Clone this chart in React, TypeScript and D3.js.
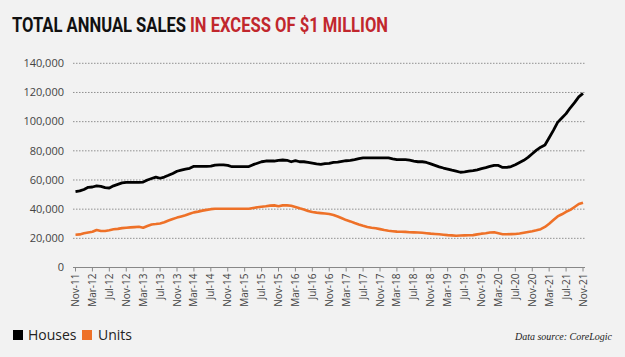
import React, { useLayoutEffect, useRef } from "react";
import * as d3 from "d3";

const W = 625;
const H = 357;

const startMonth = new Date(2011, 10, 1); // Nov-11

const houses: number[] = [
  52.0, 52.5, 53.5, 55.0, 55.2, 55.9, 55.6, 54.8, 54.5, 56.0,
  57.0, 58.0, 58.4, 58.4, 58.4, 58.4, 58.6, 60.0, 61.0, 62.0,
  61.2, 62.0, 63.2, 64.5, 66.0, 66.8, 67.5, 68.0, 69.4, 69.4,
  69.4, 69.4, 69.5, 70.2, 70.3, 70.3, 70.0, 69.1, 69.1, 69.1,
  69.1, 69.2, 70.5, 71.5, 72.5, 73.0, 73.0, 73.0, 73.5, 73.7,
  73.5, 72.5, 73.3, 72.5, 72.5, 72.0, 71.5, 71.0, 70.7, 71.2,
  71.4, 72.1, 72.3, 72.8, 73.2, 73.5, 74.0, 74.6, 75.1, 75.1,
  75.1, 75.1, 75.1, 75.1, 75.1, 74.5, 74.0, 74.0, 73.9, 73.6,
  73.0, 72.5, 72.5, 72.0, 71.0, 70.0, 69.0, 68.2, 67.5, 66.7,
  66.0, 65.3, 65.5, 66.0, 66.4, 67.0, 67.8, 68.5, 69.3, 70.0,
  70.0, 68.6, 68.6, 69.2, 70.5, 72.0, 73.5, 75.5, 78.0, 80.5,
  82.5, 84.0, 89.0, 94.0, 99.5, 102.5, 105.5, 109.5, 113.0, 117.0,
  119.4,
].map((v) => v * 1000);

const units: number[] = [
  22.5, 22.7, 23.5, 24.0, 24.5, 25.7, 25.0, 25.0, 25.5, 26.2,
  26.5, 27.0, 27.3, 27.5, 27.7, 27.9, 27.3, 28.5, 29.5, 29.8,
  30.2, 31.0, 32.2, 33.3, 34.2, 35.0, 35.8, 36.8, 37.8, 38.3,
  39.0, 39.5, 40.0, 40.3, 40.3, 40.3, 40.3, 40.3, 40.3, 40.3,
  40.3, 40.3, 40.8, 41.3, 41.7, 42.0, 42.4, 42.6, 42.0, 42.6,
  42.6, 42.3, 41.5, 40.6, 39.8, 38.8, 38.0, 37.6, 37.3, 37.0,
  36.7, 36.0, 35.0, 33.8, 32.5, 31.6, 30.5, 29.5, 28.6, 27.8,
  27.2, 26.9, 26.3, 25.7, 25.2, 24.9, 24.6, 24.5, 24.4, 24.2,
  24.1, 24.0, 23.8, 23.5, 23.2, 23.0, 22.8, 22.5, 22.2, 22.0,
  21.8, 21.9, 22.0, 22.1, 22.2, 22.7, 23.2, 23.5, 24.0, 24.1,
  23.5, 22.8, 22.8, 22.9, 23.0, 23.3, 23.8, 24.3, 24.8, 25.5,
  26.3, 27.8, 30.0, 32.5, 35.0, 36.5, 38.2, 39.5, 41.5, 43.5,
  44.4,
].map((v) => v * 1000);

const yTicks: number[] = [0, 20000, 40000, 60000, 80000, 100000, 120000, 140000];

const monthNames = ["Jan", "Feb", "Mar", "Apr", "May", "Jun", "Jul", "Aug", "Sep", "Oct", "Nov", "Dec"];

const seriesNames = ["Houses", "Units"];
const seriesColors = ["#000000", "#ee7128"];

const titleParts = ["TOTAL ANNUAL SALES", "IN EXCESS OF $1 MILLION"];

function monthDate(i: number) {
  return new Date(startMonth.getFullYear(), startMonth.getMonth() + i, 1);
}
function fmtMonth(d: Date) {
  return `${monthNames[d.getMonth()]}-${String(d.getFullYear() % 100).padStart(2, "0")}`;
}

export default function App() {
  const t1 = useRef<SVGTextElement>(null);
  const t2 = useRef<SVGTextElement>(null);

  useLayoutEffect(() => {
    const fit = (el: SVGTextElement | null, x0: number, target: number) => {
      if (!el) return;
      const w = el.getComputedTextLength();
      const s = w > 0 ? target / w : 1;
      el.setAttribute("transform", `translate(${x0},32) scale(${s},1)`);
    };
    fit(t1.current, 12, 174);
    fit(t2.current, 190, 198);
  }, []);

  const x = d3.scaleLinear().domain([0, houses.length - 1]).range([75.5, 583]);
  const y = d3.scaleLinear().domain([0, 140000]).range([267.5, 63.3]);
  const line = d3
    .line<number>()
    .x((_, i) => x(i))
    .y((d) => y(d))
    .curve(d3.curveLinear);

  const tickIdx = d3.range(0, houses.length, 4);
  const fmt = d3.format(",");
  const axisFont = "'Open Sans', 'DejaVu Sans', sans-serif";
  const titleFont = "Roboto, 'Liberation Sans Narrow', sans-serif";

  return (
    <svg
      width={W}
      height={H}
      style={{ position: "fixed", left: 0, top: 0, background: "#f2f2f2" }}
    >
      <rect x={0} y={0} width={W} height={H} fill="#f2f2f2" />
      {/* Title */}
      <text
        ref={t1}
        transform="translate(12,32) scale(0.84,1)"
        fontFamily={titleFont}
        fontWeight={700}
        fontSize={20}
        fill="#111"
      >
        {titleParts[0]}
      </text>
      <text
        ref={t2}
        transform="translate(190,32) scale(0.84,1)"
        fontFamily={titleFont}
        fontWeight={700}
        fontSize={20}
        fill="#c1272d"
      >
        {titleParts[1]}
      </text>

      {/* gridlines */}
      {yTicks.map((t) =>
        t === 0 ? null : (
          <line
            key={t}
            x1={73}
            x2={585}
            y1={y(t)}
            y2={y(t)}
            stroke="#777"
            strokeWidth={0.8}
            strokeDasharray="1.5,1.5"
          />
        )
      )}
      {/* y labels */}
      {yTicks.map((t) => (
        <text
          key={"yl" + t}
          x={64}
          y={y(t)}
          dy="0.35em"
          textAnchor="end"
          fontFamily={axisFont}
          fontSize={11}
          fill="#444"
        >
          {fmt(t)}
        </text>
      ))}
      {/* x axis */}
      <line x1={73} x2={585} y1={y(0)} y2={y(0)} stroke="#888" strokeWidth={1} />
      {tickIdx.map((i) => (
        <g key={"xt" + i}>
          <line x1={x(i)} x2={x(i)} y1={y(0)} y2={y(0) + 4} stroke="#888" strokeWidth={1} />
          <text
            transform={`translate(${x(i)},${y(0) + 6}) rotate(-90)`}
            textAnchor="end"
            dy="0.35em"
            fontFamily={axisFont}
            fontSize={10}
            fill="#444"
          >
            {fmtMonth(monthDate(i))}
          </text>
        </g>
      ))}

      {/* lines */}
      <path d={line(units) || ""} fill="none" stroke={seriesColors[1]} strokeWidth={2.6} strokeLinejoin="round" />
      <path d={line(houses) || ""} fill="none" stroke={seriesColors[0]} strokeWidth={2.8} strokeLinejoin="round" />

      {/* legend */}
      <rect x={13} y={330} width={10} height={10} fill={seriesColors[0]} />
      <text x={28} y={340} fontFamily={axisFont} fontSize={14} fill="#222">
        {seriesNames[0]}
      </text>
      <rect x={82} y={330} width={10} height={10} fill={seriesColors[1]} />
      <text x={98} y={340} fontFamily={axisFont} fontSize={14} fill="#222">
        {seriesNames[1]}
      </text>

      <text
        x={612}
        y={340}
        textAnchor="end"
        fontFamily="'Liberation Serif', serif"
        fontStyle="italic"
        fontSize={10}
        fill="#222"
      >
        Data source: CoreLogic
      </text>
    </svg>
  );
}
